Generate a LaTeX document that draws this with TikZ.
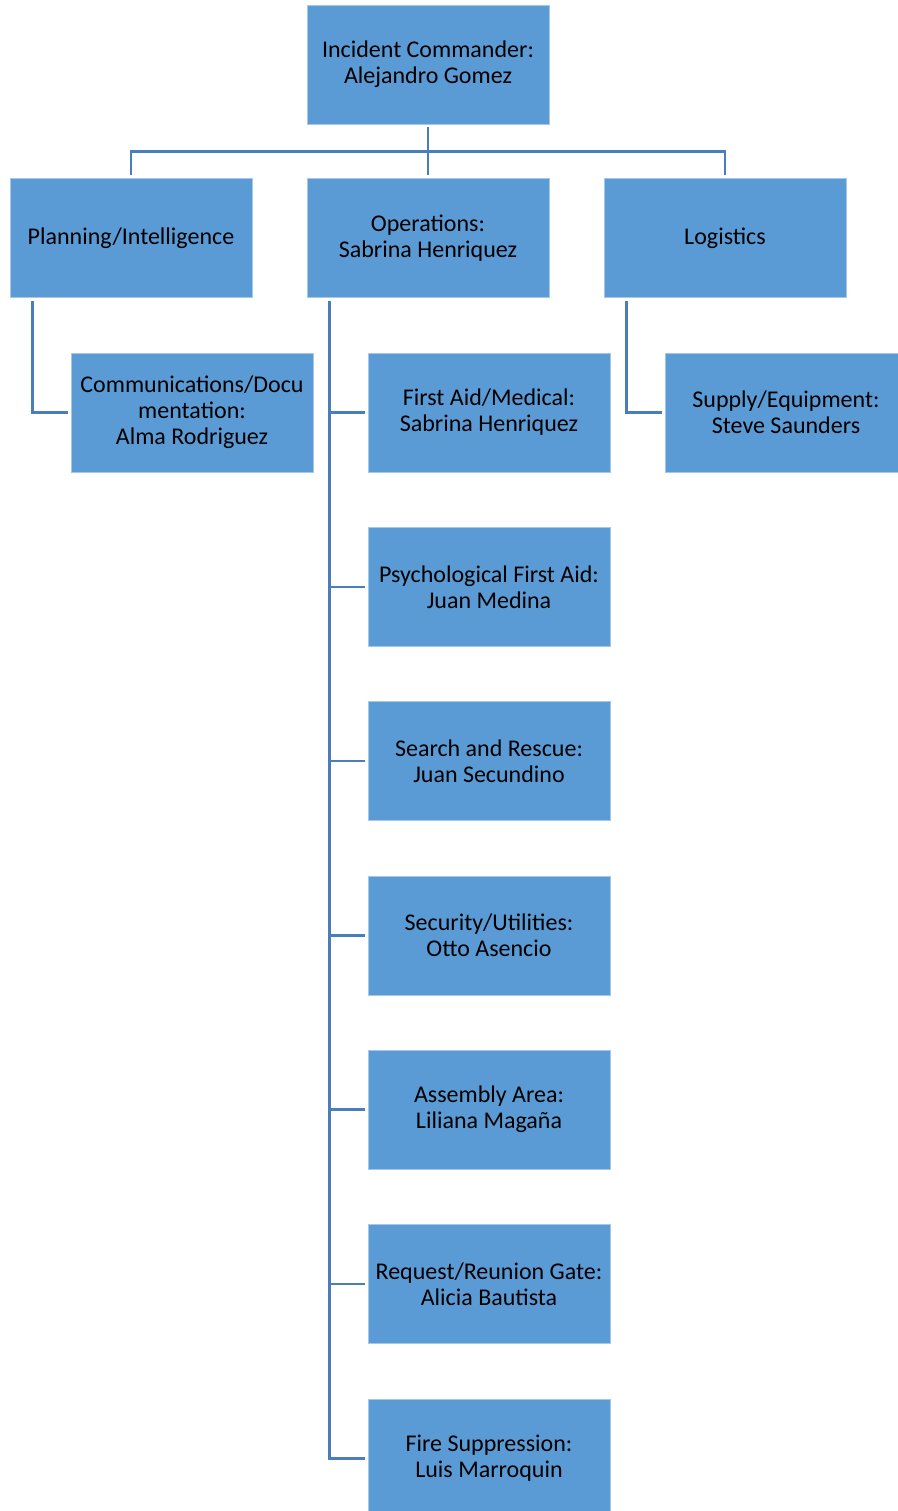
\documentclass[tikz,border=0pt]{standalone}
\usepackage{fontspec}
\setmainfont{Carlito}
\usepackage{tikz}
\usetikzlibrary{positioning, calc}
\definecolor{boxblue}{HTML}{5B9BD5}
\definecolor{linkblue}{HTML}{4A7EBB}

\begin{document}
\begin{tikzpicture}[x=1pt, y=-1pt,
	role/.style={draw=boxblue!55!white, line width=0.6pt, fill=boxblue, minimum width=242pt, minimum height=119pt, inner sep=2pt, align=center, font=\fontsize{24}{26}\selectfont},
	link/.style={draw=linkblue, line width=2.6pt, shorten <=3pt, shorten >=3pt}]
				\useasboundingbox (0,0) rectangle (897,1511);
				
				\node [role] (ic) at (428,64.5) {Incident Commander:\\Alejandro Gomez};
				
				\node [role] (plan) at (131,238) {Planning/Intelligence};
				\node [role] (ops) at (428,238) {Operations:\\Sabrina Henriquez};
				\node [role] (logi) at (725,238) {Logistics};
				
				\draw [link] (ic.south) -- (ops.north);
				\draw [link] (plan.north) |- ($(ic.south)!0.5!(ops.north)$) -| (logi.north);
				
				\node [role] (comms) at (192,412.5) {Communications/Docu\\mentation:\\Alma Rodriguez};
				\node [role] (supply) at (786,412.5) {Supply/Equipment:\\Steve Saunders};
				\draw [link] ([xshift=23pt]plan.south west) |- (comms.west);
				\draw [link] ([xshift=23pt]logi.south west) |- (supply.west);
				
				% operations sections
				\node [role] (aid) at (489,412.5) {First Aid/Medical:\\Sabrina Henriquez};
				\node [role] (psych) at (489,586.8) {Psychological First Aid:\\Juan Medina};
				\node [role] (rescue) at (489,761.1) {Search and Rescue:\\Juan Secundino};
				\node [role] (secur) at (489,935.4) {Security/Utilities:\\Otto Asencio};
				\node [role] (assem) at (489,1109.7) {Assembly Area:\\Liliana Magaña};
				\node [role] (gate) at (489,1284) {Request/Reunion Gate:\\Alicia Bautista};
				\node [role] (fire) at (489,1458.3) {Fire Suppression:\\Luis Marroquin};
				
				\coordinate (trunk) at ([xshift=23pt]ops.south west);
				\draw [link] (trunk) |- (fire.west);
				\foreach \sec in {aid, psych, rescue, secur, assem, gate}
					\draw [link, shorten <=0pt] (trunk |- \sec.west) -- (\sec.west);
\end{tikzpicture}
\end{document}
